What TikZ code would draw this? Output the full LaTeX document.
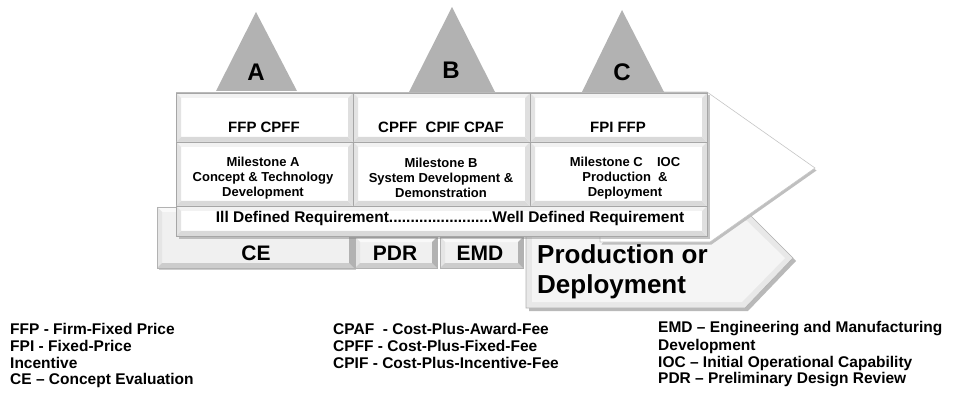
\documentclass[tikz,border=0pt]{standalone}
\usepackage{fontspec}
\setmainfont{Liberation Sans}
\usetikzlibrary{shadows}
\newcommand\bevelpaint[6]{%
 \path (path picture bounding box.north west) coordinate (bNW)
       (path picture bounding box.north east) coordinate (bNE)
       (path picture bounding box.south west) coordinate (bSW)
       (path picture bounding box.south east) coordinate (bSE);
 \fill[#2] (bNW) rectangle (bSE);
 \fill[#3] (bNW) -- (bNE) -- ([shift={(-#1,-#1)}]bNE) -- ([shift={(#1,-#1)}]bNW) -- cycle;
 \fill[#4] (bNW) -- ([shift={(#1,-#1)}]bNW) -- ([shift={(#1,#1)}]bSW) -- (bSW) -- cycle;
 \fill[#5] (bSW) -- ([shift={(#1,#1)}]bSW) -- ([shift={(-#1,#1)}]bSE) -- (bSE) -- cycle;
 \fill[#6] (bNE) -- (bSE) -- ([shift={(-#1,#1)}]bSE) -- ([shift={(-#1,-#1)}]bNE) -- cycle;
}
\begin{document}
\begin{tikzpicture}[x=1pt,y=-1pt,
  cellfont/.style={font=\fontsize{15}{18}\selectfont\bfseries},
  msfont/.style={font=\fontsize{13}{15.3}\selectfont\bfseries, align=center},
  tabfont/.style={font=\fontsize{21}{24}\selectfont\bfseries},
  prodfont/.style={font=\fontsize{26}{30}\selectfont\bfseries, align=left, anchor=west, inner sep=0pt},
  legend/.style={font=\fontsize{15.5}{17}\selectfont\bfseries, anchor=west, inner sep=0pt},
  tri/.style={fill=gray!60, draw=none},
  trilabel/.style={font=\fontsize{24}{28}\selectfont\bfseries},
  cell/.style={draw=gray!70, line width=0.8pt, inner sep=0pt,
     path picture={\bevelpaint{5pt}{white}{gray!10}{gray!22}{gray!30}{gray!25}}},
  tab/.style={draw=gray!60, line width=0.8pt, inner sep=0pt,
     path picture={\bevelpaint{5pt}{gray!12}{gray!5}{gray!20}{gray!40}{gray!60}}},
]
\useasboundingbox (0,0) rectangle (954,393);

% Production or Deployment arrow
\coordinate (p1) at (526,215);
\coordinate (p2) at (750,215);
\coordinate (p3) at (793,258);
\coordinate (p4) at (745,308);
\coordinate (p5) at (526,308);
\fill[gray!55] ([shift={(3pt,-3pt)}]p1) -- ([shift={(3pt,-3pt)}]p2) -- ([shift={(3pt,-3pt)}]p3) -- ([shift={(3pt,-3pt)}]p4) -- ([shift={(3pt,-3pt)}]p5) -- cycle;
\fill[gray!18, draw=gray!60, line width=0.6pt] (p1) -- (p2) -- (p3) -- (p4) -- (p5) -- cycle;
\fill[gray!8] (532,221) -- (747,221) -- (785,258) -- (742,302) -- (532,302) -- cycle;

% big white arrow head
\coordinate (h1) at (600,92);
\coordinate (h2) at (707,92);
\coordinate (h3) at (815,168);
\coordinate (h4) at (710,242);
\coordinate (h5) at (600,242);
\fill[gray!50] ([shift={(1.5pt,-2.5pt)}]h2) -- ([shift={(1.5pt,-2.5pt)}]h3) -- ([shift={(1.5pt,-2.5pt)}]h4) -- ([shift={(1.5pt,-2.5pt)}]h5) -- cycle;
\fill[white, draw=gray!45, line width=0.6pt] (h1) -- (h2) -- (h3) -- (h4) -- (h5) -- cycle;

\node[prodfont] (prod) at (537,272) {Production or\\Deployment};

% bottom tabs
\node[tab, minimum width=197pt, minimum height=61pt, drop shadow={opacity=0.4, shadow xshift=2pt, shadow yshift=-2pt}] (ce) at (255.5,237.5) {};
\node[tab, minimum width=82pt, minimum height=31pt] (pdr) at (396,252.5) {};
\node[tab, minimum width=83pt, minimum height=31pt] (emd) at (481.5,252.5) {};
\node[tabfont] (tce) at (256,253) {CE};
\node[tabfont] (tpdr) at (395,253) {PDR};
\node[tabfont] (temd) at (480,253) {EMD};

% table frame
\node[draw=gray!60, line width=1pt, fill=white, minimum width=531pt, minimum height=143pt, inner sep=0pt,
   drop shadow={opacity=0.45, shadow xshift=2.5pt, shadow yshift=-2.5pt}] (frame) at (441.5,164.5) {};

% cells
\node[cell, minimum width=177pt, minimum height=49pt] (ca1) at (264.5,117.5) {};
\node[cell, minimum width=177pt, minimum height=49pt] (cb1) at (441.5,117.5) {};
\node[cell, minimum width=177pt, minimum height=49pt] (cc1) at (618.5,117.5) {};
\node[cell, minimum width=177pt, minimum height=64pt] (ca2) at (264.5,174) {};
\node[cell, minimum width=177pt, minimum height=64pt] (cb2) at (441.5,174) {};
\node[cell, minimum width=177pt, minimum height=64pt] (cc2) at (618.5,174) {};
\node[cell, minimum width=531pt, minimum height=30pt] (r3) at (441.5,221) {};

\node[cellfont] (ta1) at (264,127) {FFP CPFF};
\node[cellfont] (tb1) at (441,127) {CPFF\ \ CPIF CPAF};
\node[cellfont] (tc1) at (618,127) {FPI FFP};
\node[msfont] (ta2) at (263,178) {Milestone A\\Concept \& Technology\\Development};
\node[msfont] (tb2) at (441,178) {Milestone B\\System Development \&\\Demonstration};
\node[msfont] (tc2) at (625,178) {Milestone C\hspace{1.1em}IOC\\Production\ \ \&\\Deployment};
\node[font=\fontsize{15.5}{18}\selectfont\bfseries] (tr3) at (450,218) {Ill Defined Requirement........................Well Defined Requirement};

% triangles
\fill[tri] (256,12) -- (297,91) -- (216,91) -- cycle;
\fill[tri] (452,7) -- (495,92) -- (409,92) -- cycle;
\fill[tri] (622,10) -- (664,92) -- (582,92) -- cycle;
\node[trilabel] (la) at (256,72) {A};
\node[trilabel] (lb) at (451,70) {B};
\node[trilabel] (lc) at (622,72) {C};

% legend
\node[legend] (l1) at (10,329) {FFP - Firm-Fixed Price};
\node[legend] (l2) at (10,346) {FPI - Fixed-Price};
\node[legend] (l3) at (10,363) {Incentive};
\node[legend] (l4) at (10,380) {CE – Concept Evaluation};
\node[legend] (m1) at (333,329) {CPAF\ \ - Cost-Plus-Award-Fee};
\node[legend] (m2) at (333,346) {CPFF - Cost-Plus-Fixed-Fee};
\node[legend] (m3) at (333,363) {CPIF - Cost-Plus-Incentive-Fee};
\node[legend] (n1) at (658,329) {EMD – Engineering and Manufacturing};
\node[legend] (n2) at (658,346) {Development};
\node[legend] (n3) at (658,363) {IOC – Initial Operational Capability};
\node[legend] (n4) at (658,380) {PDR – Preliminary Design Review};
\end{tikzpicture}
\end{document}
